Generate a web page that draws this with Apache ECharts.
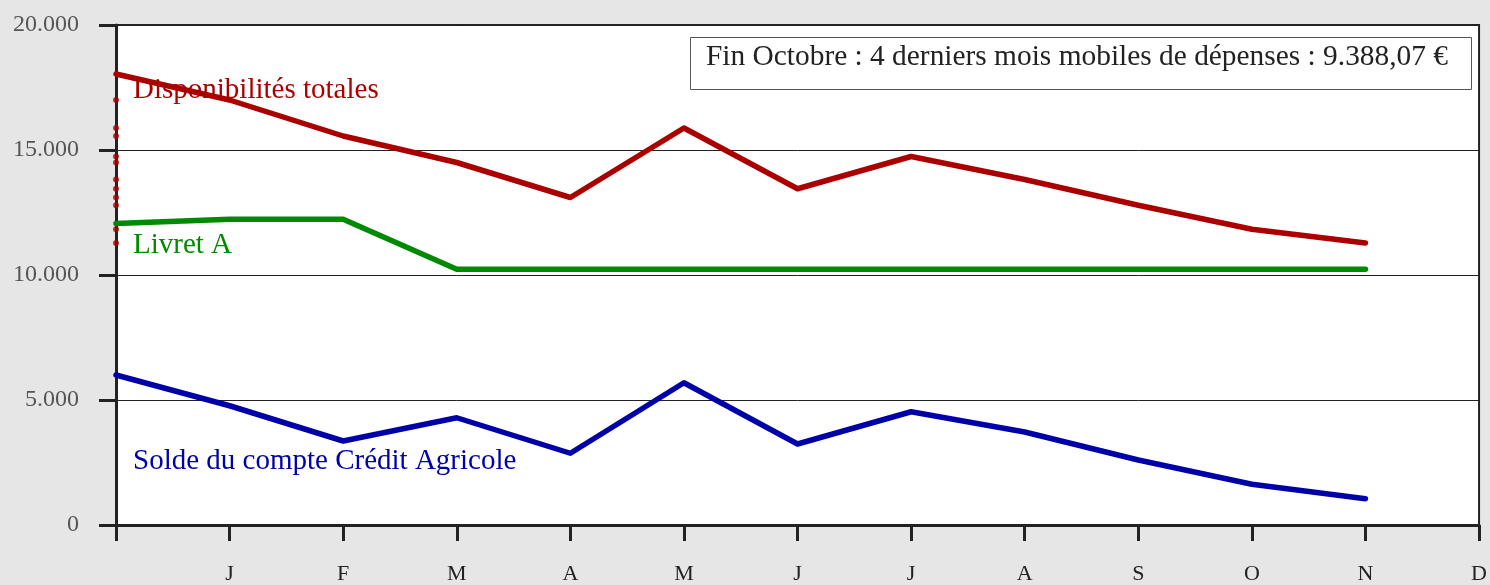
<!DOCTYPE html>
<html>
<head>
<meta charset="utf-8">
<script src="https://cdn.jsdelivr.net/npm/echarts@6/dist/echarts.min.js"></script>
<style>
  html, body { margin: 0; padding: 0; background: #e6e6e6; }
  #chart { width: 1490px; height: 585px; }
</style>
</head>
<body>
<div id="chart"></div>
<script>
// months (first slot is the previous december, no label)
var months = ['', 'J', 'F', 'M', 'A', 'M', 'J', 'J', 'A', 'S', 'O', 'N', 'D'];

var disponibilites = [18040, 17000, 15560, 14500, 13100, 15880, 13450, 14740, 13820, 12790, 11830, 11280];
var livretA = [12060, 12230, 12230, 10230, 10230, 10230, 10230, 10230, 10230, 10230, 10230, 10230];
var soldeCA = [6000, 4770, 3360, 4290, 2870, 5690, 3240, 4530, 3720, 2600, 1630, 1050];

var yTicks = [0, 5000, 10000, 15000, 20000];
var note = 'Fin Octobre : 4 derniers mois mobiles de dépenses : 9.388,07 €';

var serif = '"Liberation Serif", "DejaVu Serif", serif';

function fmt(v) {
  return String(v).replace(/\B(?=(\d{3})+(?!\d))/g, '.');
}

// red dots stacked on the first column
var dots = [];
for (var i = 1; i < disponibilites.length; i++) {
  dots.push([0, disponibilites[i]]);
}

var chart = echarts.init(document.getElementById('chart'));
var options = {};
options.backgroundColor = '#e6e6e6';
options.animation = false;
options.grid = {
  left: 116, right: 10, top: 25, bottom: 60,
  show: true, backgroundColor: '#fff',
  borderColor: '#222', borderWidth: 2
};
options.xAxis = {
  type: 'category',
  data: months,
  boundaryGap: false,
  axisLine: { lineStyle: { color: '#222', width: 3 } },
  axisTick: { show: true, interval: 0, length: 16, lineStyle: { color: '#222', width: 3 } },
  axisLabel: { interval: 0, margin: 38, color: '#222', fontFamily: serif, fontSize: 22 },
  splitLine: { show: false }
};
options.yAxis = {
  type: 'value',
  min: yTicks[0], max: yTicks[yTicks.length - 1], interval: 5000,
  axisLine: { show: true, lineStyle: { color: '#222', width: 3 } },
  axisTick: { show: true, length: 17, lineStyle: { color: '#222', width: 3 } },
  axisLabel: { margin: 37, color: '#555', fontFamily: serif, fontSize: 24, formatter: fmt },
  splitLine: { show: true, lineStyle: { color: '#222', width: 1 } }
};
options.series = [
  {
    name: 'Disponibilités totales', type: 'line', data: disponibilites,
    showSymbol: false, lineStyle: { color: '#aa0000', width: 5.5, join: 'round', cap: 'round' },
    z: 3
  },
  {
    name: 'Livret A', type: 'line', data: livretA,
    showSymbol: false, lineStyle: { color: '#008a00', width: 5.5, join: 'round', cap: 'round' },
    z: 3
  },
  {
    name: 'Solde du compte Crédit Agricole', type: 'line', data: soldeCA,
    showSymbol: false, lineStyle: { color: '#0000a8', width: 5.5, join: 'round', cap: 'round' },
    z: 3
  },
  {
    type: 'scatter', data: dots, symbol: 'circle', symbolSize: 6,
    itemStyle: { color: '#aa0000' }, z: 10
  }
];
options.graphic = [
  {
    type: 'text', left: 133, top: 76, z: 5,
    style: { text: 'Disponibilités totales', fill: '#aa0000', font: '29px ' + serif }
  },
  {
    type: 'text', left: 133, top: 231, z: 5,
    style: { text: 'Livret A', fill: '#008a00', font: '29px ' + serif }
  },
  {
    type: 'text', left: 133, top: 447, z: 5,
    style: { text: 'Solde du compte Crédit Agricole', fill: '#0000a8', font: '29px ' + serif }
  },
  {
    type: 'rect', left: 690, top: 37, z: 5,
    shape: { width: 781, height: 52 },
    style: { fill: '#fff', stroke: '#555', lineWidth: 1 }
  },
  {
    type: 'text', left: 706, top: 43, z: 6,
    style: { text: note, fill: '#222', font: '29.4px ' + serif }
  }
];
chart.setOption(options);
</script>
</body>
</html>
